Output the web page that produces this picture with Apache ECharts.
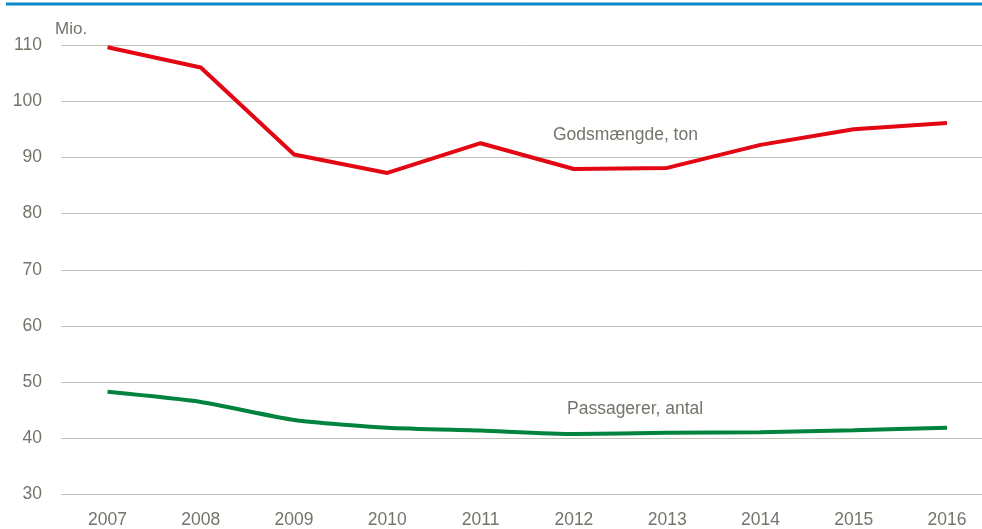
<!DOCTYPE html>
<html>
<head>
<meta charset="utf-8">
<style>
  html, body { margin: 0; padding: 0; background: #fff; }
  #chart { width: 982px; height: 529px; }
</style>
<script src="https://cdn.jsdelivr.net/npm/echarts@6/dist/echarts.min.js"></script>
</head>
<body>
<div id="chart"></div>
<script>
const years = ['2007', '2008', '2009', '2010', '2011', '2012', '2013', '2014', '2015', '2016'];
const gods = [109.6, 106.0, 90.5, 87.2, 92.5, 87.9, 88.1, 92.2, 95.0, 96.1];
const passagerer = [48.2, 46.4, 43.2, 41.8, 41.3, 40.7, 40.9, 41.0, 41.35, 41.8];

const textColor = '#75736a';
const font = '"Liberation Sans", Arial, sans-serif';

const chart = echarts.init(document.getElementById('chart'));

// grid 0 only carries the gridlines and y labels, grid 1 holds the lines
chart.setOption({
  animation: false,
  backgroundColor: '#fff',
  grid: [
    { left: 61, top: 45, right: 0, height: 449.5 },
    { left: 107.5, top: 45, width: 839.5, height: 449.5 }
  ],
  xAxis: [
    { type: 'value', gridIndex: 0, show: false, min: 0, max: 1 },
    {
      type: 'category',
      gridIndex: 1,
      data: years,
      boundaryGap: false,
      axisLine: { show: false },
      axisTick: { show: false },
      splitLine: { show: false },
      axisLabel: {
        color: textColor,
        fontFamily: font,
        fontSize: 17.5,
        margin: 17
      }
    }
  ],
  yAxis: [
    {
      type: 'value',
      gridIndex: 0,
      min: 30,
      max: 110,
      interval: 10,
      axisLine: { show: false },
      axisTick: { show: false },
      axisLabel: {
        color: textColor,
        fontFamily: font,
        fontSize: 17.5,
        margin: 19
      },
      splitLine: {
        lineStyle: { color: '#c3c2b7', width: 1 }
      }
    },
    {
      type: 'value',
      gridIndex: 1,
      min: 30,
      max: 110,
      interval: 10,
      show: false,
      splitLine: { show: false }
    }
  ],
  series: [
    {
      name: 'Godsmængde, ton',
      type: 'line',
      xAxisIndex: 1,
      yAxisIndex: 1,
      data: gods,
      symbol: 'none',
      lineStyle: { color: '#e30613', width: 4 },
      itemStyle: { color: '#e30613' }
    },
    {
      name: 'Passagerer, antal',
      type: 'line',
      xAxisIndex: 1,
      yAxisIndex: 1,
      data: passagerer,
      smooth: 0.2,
      symbol: 'none',
      lineStyle: { color: '#00843d', width: 4 },
      itemStyle: { color: '#00843d' }
    }
  ],
  graphic: [
    {
      type: 'line',
      shape: { x1: 6, y1: 4, x2: 982, y2: 4 },
      style: { stroke: '#0a87c9', lineWidth: 3 }
    },
    {
      type: 'text',
      left: 55,
      top: 21,
      style: { text: 'Mio.', fill: textColor, font: '17px ' + font }
    },
    {
      type: 'text',
      left: 553,
      top: 126,
      style: { text: 'Godsmængde, ton', fill: textColor, font: '17.5px ' + font }
    },
    {
      type: 'text',
      left: 567,
      top: 400,
      style: { text: 'Passagerer, antal', fill: textColor, font: '17.5px ' + font }
    }
  ]
});
</script>
</body>
</html>
